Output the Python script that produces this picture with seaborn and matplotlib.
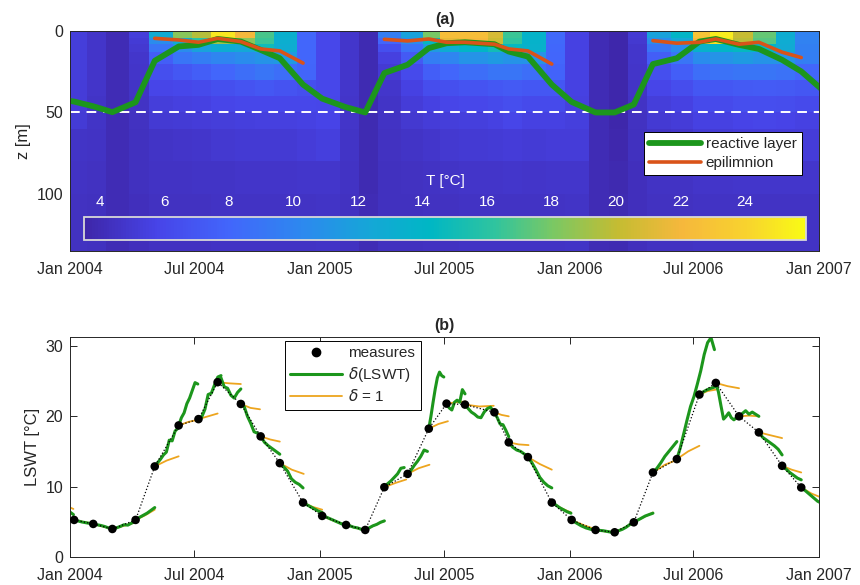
import numpy as np
import pandas as pd
import seaborn as sns
import matplotlib
matplotlib.use('Agg')
import matplotlib.pyplot as plt
import matplotlib.dates as mdates
from matplotlib.colors import LinearSegmentedColormap
from matplotlib.lines import Line2D

# monthly profile / surface measurement dates
meas_dates = ['2004-01-07', '2004-02-04', '2004-03-03', '2004-04-06', '2004-05-04', '2004-06-08',
              '2004-07-07', '2004-08-04', '2004-09-07', '2004-10-06', '2004-11-03', '2004-12-07',
              '2005-01-04', '2005-02-08', '2005-03-08', '2005-04-05', '2005-05-09', '2005-06-09',
              '2005-07-05', '2005-08-01', '2005-09-13', '2005-10-04', '2005-11-01', '2005-12-06',
              '2006-01-04', '2006-02-08', '2006-03-08', '2006-04-05', '2006-05-03', '2006-06-07',
              '2006-07-10', '2006-08-03', '2006-09-06', '2006-10-05', '2006-11-08', '2006-12-06']

lswt = [5.24, 4.67, 3.95, 5.24, 12.86, 18.7, 19.6, 24.86, 21.76, 17.14, 13.33, 7.71,
        5.81, 4.52, 3.81, 9.9, 11.8, 18.24, 21.81, 21.67, 20.57, 16.29, 14.19, 7.71,
        5.24, 3.81, 3.48, 4.9, 12.0, 13.9, 23.1, 24.76, 20.0, 17.71, 12.95, 9.86]

# reactive layer / epilimnion depth [m]
reactive_dates = ['2003-12-09'] + meas_dates + ['2007-01-04']
reactive_z = [41.5,
              43.3, 46.2, 49.8, 43.7, 18.3, 9.5, 8.5, 4.9, 6.5, 11.6, 16.7, 32.9,
              41.5, 46.8, 50.0, 25.8, 20.7, 10.5, 7.5, 6.9, 8.1, 12.6, 15.7, 32.9,
              43.5, 50.0, 50.0, 45.1, 20.3, 16.7, 6.5, 4.9, 8.5, 11.0, 17.7, 24.8,
              35.4]
nan = np.nan
epi_z = [nan, nan, nan, nan, 4.5, 5.5, 6.9, 4.5, 6.5, 11.0, 12.2, 19.7,
         nan, nan, nan, 5.1, 6.1, 4.9, 6.9, 6.9, 8.1, 11.0, 12.2, 20.3,
         nan, nan, nan, nan, 5.9, 7.5, 6.9, 4.9, 8.1, 6.9, 13.0, 16.3]

# temperature profiles, one per date, layers between depth_edges
depth_edges = [0, 4, 8, 13, 20, 30, 40, 50, 60, 80, 100, 135]
profiles = [
    [5.3, 5.3, 5.3, 5.3, 5.3, 5.2, 5.2, 5.1, 4.6, 4.5, 4.4],
    [4.7, 4.7, 4.7, 4.7, 4.7, 4.7, 4.6, 4.6, 4.5, 4.4, 4.3],
    [4.0, 4.0, 4.0, 4.0, 4.0, 4.0, 4.0, 4.0, 4.0, 4.0, 4.0],
    [5.3, 5.1, 4.9, 4.8, 4.7, 4.6, 4.5, 4.4, 4.3, 4.3, 4.2],
    [12.8, 10.5, 9.0, 7.5, 6.5, 5.8, 5.3, 5.0, 4.6, 4.5, 4.4],
    [18.4, 13.0, 10.5, 9.0, 7.0, 6.0, 5.5, 5.1, 4.7, 4.5, 4.4],
    [19.6, 16.0, 12.0, 9.5, 7.5, 6.2, 5.6, 5.2, 4.8, 4.6, 4.4],
    [25.0, 19.0, 13.0, 10.0, 8.0, 6.5, 5.8, 5.3, 4.9, 4.6, 4.5],
    [22.0, 18.5, 12.5, 10.5, 8.5, 6.8, 6.0, 5.4, 5.0, 4.7, 4.5],
    [16.8, 16.5, 14.8, 11.0, 9.0, 7.0, 6.0, 5.5, 5.0, 4.7, 4.5],
    [13.3, 13.2, 13.0, 11.5, 8.5, 6.8, 6.0, 5.5, 5.0, 4.7, 4.5],
    [8.0, 8.0, 8.0, 8.0, 7.9, 6.5, 6.0, 5.6, 5.2, 4.8, 4.5],
    [6.0, 6.0, 6.0, 6.0, 6.0, 6.0, 5.9, 5.7, 5.4, 4.8, 4.6],
    [4.8, 4.8, 4.8, 4.8, 4.8, 4.8, 4.7, 4.7, 4.6, 4.5, 4.4],
    [3.9, 3.9, 3.9, 3.9, 3.9, 3.9, 3.9, 3.9, 3.9, 3.9, 4.0],
    [9.5, 8.0, 6.5, 5.5, 5.0, 4.8, 4.6, 4.5, 4.4, 4.3, 4.3],
    [12.0, 10.5, 8.8, 7.2, 6.2, 5.6, 5.2, 4.9, 4.6, 4.4, 4.3],
    [18.0, 14.5, 11.5, 9.5, 7.5, 6.3, 5.6, 5.2, 4.8, 4.5, 4.4],
    [22.5, 21.5, 13.0, 10.0, 8.0, 6.5, 5.8, 5.3, 4.9, 4.6, 4.4],
    [22.5, 22.0, 14.0, 11.0, 8.5, 6.8, 6.0, 5.4, 5.0, 4.7, 4.5],
    [20.8, 20.3, 15.0, 11.5, 9.0, 7.0, 6.2, 5.6, 5.1, 4.7, 4.5],
    [16.5, 16.2, 14.5, 11.0, 9.0, 7.2, 6.4, 5.8, 5.2, 4.8, 4.5],
    [13.8, 13.7, 13.5, 11.0, 8.5, 7.0, 6.2, 5.6, 5.1, 4.7, 4.5],
    [8.2, 8.2, 8.1, 8.0, 7.8, 7.0, 6.2, 5.6, 5.2, 4.8, 4.5],
    [5.6, 5.6, 5.6, 5.6, 5.6, 5.6, 5.5, 5.4, 5.2, 4.8, 4.6],
    [4.0, 4.0, 4.0, 4.0, 4.0, 4.0, 4.0, 4.0, 4.0, 4.0, 4.0],
    [3.6, 3.6, 3.6, 3.6, 3.6, 3.6, 3.6, 3.6, 3.7, 3.8, 3.9],
    [5.0, 4.9, 4.8, 4.8, 4.7, 4.6, 4.5, 4.4, 4.3, 4.2, 4.2],
    [12.0, 10.5, 9.0, 7.5, 6.5, 5.8, 5.3, 5.0, 4.6, 4.5, 4.4],
    [14.0, 12.5, 10.5, 9.0, 7.5, 6.3, 5.6, 5.2, 4.8, 4.5, 4.4],
    [23.0, 22.0, 13.5, 10.5, 8.5, 7.0, 6.2, 5.6, 5.1, 4.7, 4.5],
    [25.2, 24.5, 14.0, 11.0, 8.8, 7.0, 6.2, 5.6, 5.1, 4.7, 4.5],
    [20.2, 19.8, 14.5, 11.5, 9.0, 7.2, 6.4, 5.7, 5.2, 4.8, 4.5],
    [17.5, 17.2, 14.0, 11.0, 9.0, 7.3, 6.4, 5.8, 5.2, 4.8, 4.5],
    [13.0, 12.9, 12.7, 11.0, 8.8, 7.2, 6.3, 5.7, 5.2, 4.8, 4.5],
    [9.8, 9.8, 9.7, 9.6, 8.0, 7.0, 6.2, 5.6, 5.2, 4.8, 4.5],
]

# forecast segments starting at each measure (plus one from Dec 2003)
seg_start = ['2003-12-09'] + meas_dates
green_days = [28, 28, 28, 34, 28, 34, 28, 33, 34, 29, 28, 34, 28,
              35, 28, 28, 29, 29, 22, 27, 42, 21, 29, 35, 28,
              35, 28, 28, 28, 35, 55, 23, 34, 29, 34, 28, 30]
green_vals = [
    [8.0, 7.5, 7.0, 6.5, 6.0],
    [5.24, 5.1, 4.95, 4.85, 4.75, 4.67],
    [4.67, 4.55, 4.45, 4.3, 4.1, 3.95],
    [3.95, 4.1, 4.3, 4.55, 4.5, 4.8, 5.1],
    [5.24, 5.6, 5.9, 6.2, 6.6, 7.0],
    [12.86, 13.4, 13.9, 14.5, 14.9, 16.6, 16.5, 17.9, 18.3],
    [18.7, 19.8, 20.5, 21.8, 22.6, 23.7, 24.8, 24.6],
    [19.6, 19.9, 21.0, 23.1, 23.3, 24.5, 25.6, 25.8],
    [24.86, 25.5, 24.2, 24.0, 23.0, 22.6, 23.4, 23.9],
    [21.76, 21.4, 20.0, 19.0, 17.8, 17.6, 17.2],
    [17.14, 16.3, 15.8, 15.4, 15.0, 14.6],
    [13.33, 12.8, 12.2, 11.1, 10.6, 10.3, 9.8],
    [7.71, 7.4, 7.1, 6.8, 6.5, 6.3],
    [5.81, 5.6, 5.3, 5.0, 4.7, 4.5],
    [4.52, 4.4, 4.2, 4.1, 3.9, 3.8],
    [3.81, 4.1, 4.4, 4.6, 4.9, 5.1],
    [9.9, 10.4, 10.8, 11.3, 11.8, 12.6, 12.7],
    [11.8, 12.3, 13.0, 13.6, 14.3, 15.2, 15.0],
    [18.24, 20.0, 22.0, 23.9, 25.5, 26.3, 25.8, 25.6],
    [21.81, 21.2, 20.9, 22.0, 22.3, 22.0, 23.8, 23.2],
    [21.67, 21.1, 20.6, 20.3, 19.9, 19.8, 20.6, 21.1, 21.3, 20.6],
    [20.57, 19.8, 18.9, 18.8, 18.0, 17.1],
    [16.29, 15.6, 15.2, 15.0, 14.6, 14.3],
    [14.19, 13.4, 12.4, 11.3, 10.6, 10.1, 9.8],
    [7.71, 7.4, 7.0, 6.7, 6.4, 6.2],
    [5.24, 4.8, 4.4, 4.1, 3.9, 3.8],
    [3.81, 3.75, 3.7, 3.6, 3.5, 3.48],
    [3.48, 3.7, 3.9, 4.2, 4.6, 4.9],
    [4.9, 5.2, 5.5, 5.8, 6.0, 6.2],
    [12.0, 12.6, 13.4, 14.3, 15.0, 15.7, 16.4],
    [13.9, 15.5, 17.5, 19.5, 21.4, 22.8, 24.6, 26.5, 28.8, 30.5, 31.2, 29.5],
    [23.1, 23.5, 23.8, 24.0, 24.2],
    [24.76, 23.5, 21.5, 19.6, 20.0, 20.5, 19.8, 19.5, 19.8, 20.0],
    [20.0, 20.4, 20.8, 20.3, 20.6, 20.3, 20.0],
    [17.71, 17.0, 16.6, 16.2, 15.8, 15.3, 14.5],
    [12.95, 12.5, 12.0, 11.6, 11.2, 10.95],
    [9.86, 9.4, 8.9, 8.4, 7.9, 7.6],
]
orange_days = [28, 28, 28, 34, 28, 35, 28, 28, 34, 28, 28, 35, 28,
               35, 28, 28, 32, 32, 28, 28, 42, 21, 29, 35, 28,
               35, 28, 28, 28, 35, 33, 24, 34, 29, 34, 28, 30]
orange_vals = [
    [8.0, 7.4, 6.8], [5.24, 4.95, 4.7], [4.67, 4.3, 4.0], [3.95, 4.4, 4.9],
    [5.24, 5.9, 6.7], [12.86, 13.7, 14.3], [18.7, 19.2, 19.5], [19.6, 20.0, 20.4],
    [24.86, 24.7, 24.6], [21.76, 21.2, 21.0], [17.14, 16.7, 16.4], [13.33, 12.4, 11.8],
    [7.71, 7.1, 6.7], [5.81, 5.1, 4.5], [4.52, 4.1, 3.8], [3.81, 4.5, 5.1],
    [9.9, 10.5, 11.0], [11.8, 12.6, 13.1], [18.24, 18.9, 19.3], [21.81, 22.0, 22.1],
    [21.67, 21.4, 21.5], [20.57, 20.2, 20.0], [16.29, 16.0, 15.9], [14.19, 13.2, 12.4],
    [7.71, 6.9, 6.3], [5.24, 4.5, 3.9], [3.81, 3.6, 3.5], [3.48, 4.1, 4.9],
    [4.9, 5.6, 6.3], [12.0, 13.1, 13.8], [13.9, 15.0, 15.8], [23.1, 23.6, 23.8],
    [24.76, 24.3, 24.0], [20.0, 20.1, 20.0], [17.71, 17.3, 16.9], [12.95, 12.4, 12.0],
    [9.86, 9.0, 8.4],
]

green = '#1c961c'
orange_a = '#d95319'
orange_b = '#eda51e'
parula = LinearSegmentedColormap.from_list('parula_like', [
    (0.00, '#3e26a8'), (0.10, '#4744e8'), (0.20, '#4266fb'), (0.30, '#2d88ef'),
    (0.40, '#14a8d6'), (0.48, '#00b7c4'), (0.57, '#30c49e'), (0.65, '#7ac864'),
    (0.74, '#c4bc32'), (0.83, '#f6b83c'), (0.92, '#f8d32e'), (1.00, '#f9fb15')])


def seg_frame(starts, days, vals):
    rows = []
    for k, (s, d, v) in enumerate(zip(starts, days, vals)):
        t = pd.Timestamp(s) + pd.to_timedelta(np.linspace(0, d, len(v)), unit='D')
        for ti, vi in zip(t, v):
            rows.append((k, mdates.date2num(ti), vi))
    return pd.DataFrame(rows, columns=['seg', 't', 'T'])


sns.set_theme(style='ticks')
plt.rcParams['font.family'] = ['Liberation Sans', 'DejaVu Sans']
ink = '#262626'

fig = plt.figure(figsize=(8.6, 5.85), dpi=100)
ax1 = fig.add_axes([70 / 860, 1 - 251 / 585, 749 / 860, 220 / 585])
ax2 = fig.add_axes([70 / 860, 1 - 556.7 / 585, 749 / 860, 219.7 / 585])

dnum = mdates.date2num(pd.to_datetime(meas_dates))
x_edges = np.append(dnum - 9, mdates.date2num(pd.Timestamp('2007-01-06')))
T = np.array(profiles).T
mesh = ax1.pcolormesh(x_edges, depth_edges, T, cmap=parula, vmin=3.5, vmax=25.9,
                      shading='flat', rasterized=True)
ax1.axhline(50, color='white', lw=1.4, ls=(0, (5, 3.5)))
sns.lineplot(x=mdates.date2num(pd.to_datetime(reactive_dates)), y=reactive_z, ax=ax1,
             color=green, lw=4.2, sort=False)
ax1.plot(dnum, epi_z, color=orange_a, lw=2.6)
ax1.set_ylim(135, 0)
ax1.set_yticks([0, 50, 100])
ax1.set_ylabel('z [m]', fontsize=12, color=ink)
ax1.set_title('(a)', fontsize=11.5, fontweight='bold', pad=5)
leg1 = ax1.legend([Line2D([], [], color=green, lw=4.2), Line2D([], [], color=orange_a, lw=2.6)],
                  ['reactive layer', 'epilimnion'], loc='upper right',
                  bbox_to_anchor=(0.977, 0.541), borderaxespad=0, fontsize=11,
                  handlelength=3.4, handletextpad=0.3, labelspacing=0.3,
                  fancybox=False, framealpha=1, borderpad=0.35)
leg1.get_frame().set_edgecolor('black')
leg1.get_frame().set_linewidth(0.7)

cax = fig.add_axes([84 / 860, 1 - 240 / 585, 722 / 860, 23 / 585])
cb = fig.colorbar(mesh, cax=cax, orientation='horizontal', ticks=list(range(4, 25, 2)))
cax.xaxis.set_ticks_position('top')
cax.xaxis.set_label_position('top')
cax.tick_params(axis='x', direction='in', length=5, width=0.9, colors='white',
                labelsize=11, pad=6)
tick_cols = ['white'] * 8 + ['black', 'black', '#3030d0']
for tk, c in zip(cax.xaxis.get_major_ticks(), tick_cols):
    tk.tick2line.set_color(c)
cb.outline.set_edgecolor('#d8d8d8')
cb.outline.set_linewidth(1.3)
cb.set_label('T [°C]', color='white', fontsize=11, labelpad=7)

# panel b
df_o = seg_frame(seg_start, orange_days, orange_vals)
df_g = seg_frame(seg_start, green_days, green_vals)
sns.lineplot(data=df_o, x='t', y='T', units='seg', estimator=None, sort=False,
             color=orange_b, lw=1.3, ax=ax2)
sns.lineplot(data=df_g, x='t', y='T', units='seg', estimator=None, sort=False,
             color=green, lw=2.2, ax=ax2)
sns.lineplot(x=dnum, y=lswt, ax=ax2, color='black', lw=0.9, linestyle=':', sort=False)
sns.scatterplot(x=dnum, y=lswt, ax=ax2, color='black', s=38, edgecolor='none', zorder=5)
ax2.set_ylim(0, 31.3)
ax2.set_yticks([0, 10, 20, 30])
ax2.set_ylabel('LSWT [°C]', fontsize=12, color=ink)
ax2.set_xlabel('')
ax2.set_title('(b)', fontsize=11.5, fontweight='bold', pad=5)
leg2 = ax2.legend([Line2D([], [], color='black', marker='o', ls='none', ms=6),
                   Line2D([], [], color=green, lw=2.2),
                   Line2D([], [], color=orange_b, lw=1.3)],
                  ['measures', r'$\delta$(LSWT)', r'$\delta$ = 1'], loc='upper left',
                  bbox_to_anchor=(0.287, 0.982), borderaxespad=0, fontsize=11,
                  handlelength=3.4, handletextpad=0.4, labelspacing=0.3,
                  fancybox=False, framealpha=1, borderpad=0.35)
leg2.get_frame().set_edgecolor('black')
leg2.get_frame().set_linewidth(0.7)

for ax in (ax1, ax2):
    ax.set_xlim(mdates.date2num(pd.Timestamp('2004-01-01')),
                mdates.date2num(pd.Timestamp('2007-01-01')))
    ax.xaxis.set_major_locator(mdates.MonthLocator(bymonth=[1, 7]))
    ax.xaxis.set_major_formatter(mdates.DateFormatter('%b %Y'))
    ax.tick_params(direction='in', length=5, width=0.7, colors=ink, labelsize=11.5,
                   top=True, right=True)
    ax.tick_params(axis='x', pad=8)
    ax.tick_params(axis='y', pad=5)
    for sp in ax.spines.values():
        sp.set_visible(True)
        sp.set_color(ink)
        sp.set_linewidth(0.7)

fig.savefig('out.png', dpi=100)
